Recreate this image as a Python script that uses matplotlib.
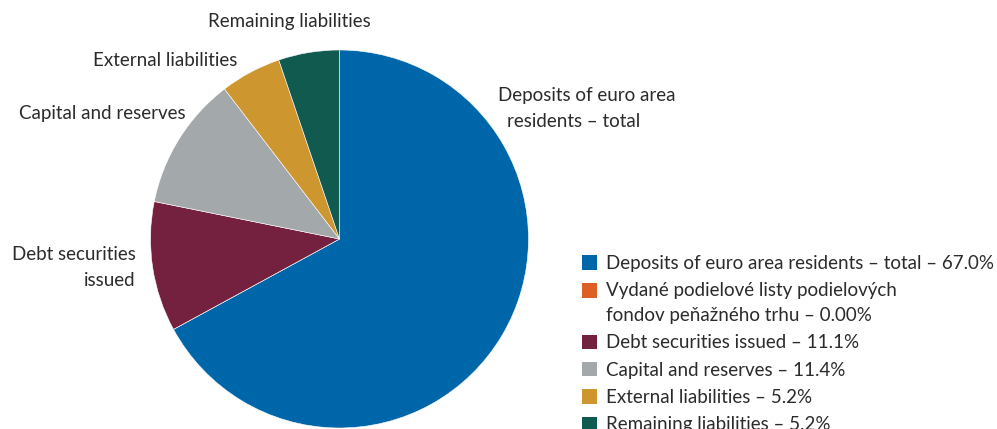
import matplotlib.pyplot as plt
from matplotlib.patches import Patch

plt.rcParams['font.family'] = ['Lato', 'DejaVu Sans']

# liability shares, %
labels = [
    "Deposits of euro area residents – total",
    "Vydané podielové listy podielových\nfondov peňažného trhu",
    "Debt securities issued",
    "Capital and reserves",
    "External liabilities",
    "Remaining liabilities",
]
values = [67.0, 0.0, 11.1, 11.4, 5.2, 5.2]
value_fmt = ["{:.1f}", "{:.2f}", "{:.1f}", "{:.1f}", "{:.1f}", "{:.1f}"]
colors = ["#0066AA", "#DE5F26", "#74213F", "#A3A8AB", "#CE962F", "#115A4F"]

text_color = "#2B2B2B"
fs = 13.5
W, H = 997, 429

fig = plt.figure(figsize=(W / 100, H / 100), dpi=100)

cx, cy, r = 339.5, 239, 189
ax = fig.add_axes([(cx - r) / W, (H - cy - r) / H, 2 * r / W, 2 * r / H])
wedges, _ = ax.pie(values, colors=colors, startangle=90, counterclock=False,
                   radius=1.0, wedgeprops=dict(edgecolor="white", linewidth=0.4))
ax.set_xlim(-1, 1)
ax.set_ylim(-1, 1)
ax.set_aspect("equal")
ax.axis("off")


def put(x, y, s, ha="left"):
    fig.text(x / W, 1 - y / H, s, ha=ha, va="center", fontsize=fs, color=text_color)


# slice callouts
put(289, 21, "Remaining liabilities", ha="center")
put(165, 60, "External liabilities", ha="center")
put(102, 113, "Capital and reserves", ha="center")
put(136, 254, "Debt securities", ha="right")
put(136, 281, "issued", ha="right")
put(498, 96, "Deposits of euro area")
put(507, 122, "residents – total")

handles = [Patch(facecolor=c, edgecolor="none") for c in colors]
leg_labels = [f"{l} – {f.format(v)}%" for l, v, f in zip(labels, values, value_fmt)]
leg = fig.legend(handles, leg_labels, loc="upper left",
                 bbox_to_anchor=(582 / W, 1 - 255 / H), frameon=False,
                 fontsize=fs, handlelength=0.8, handleheight=0.8,
                 handletextpad=0.5, labelspacing=0.55, borderpad=0,
                 borderaxespad=0)
for t in leg.get_texts():
    t.set_color(text_color)
    t.set_linespacing(1.55)

# put the two-line entry's swatch next to its first line
two_line = leg.legend_handles[1]
two_line.set_y(two_line.get_y() + 9.5)

fig.savefig("out.png", dpi=100)
